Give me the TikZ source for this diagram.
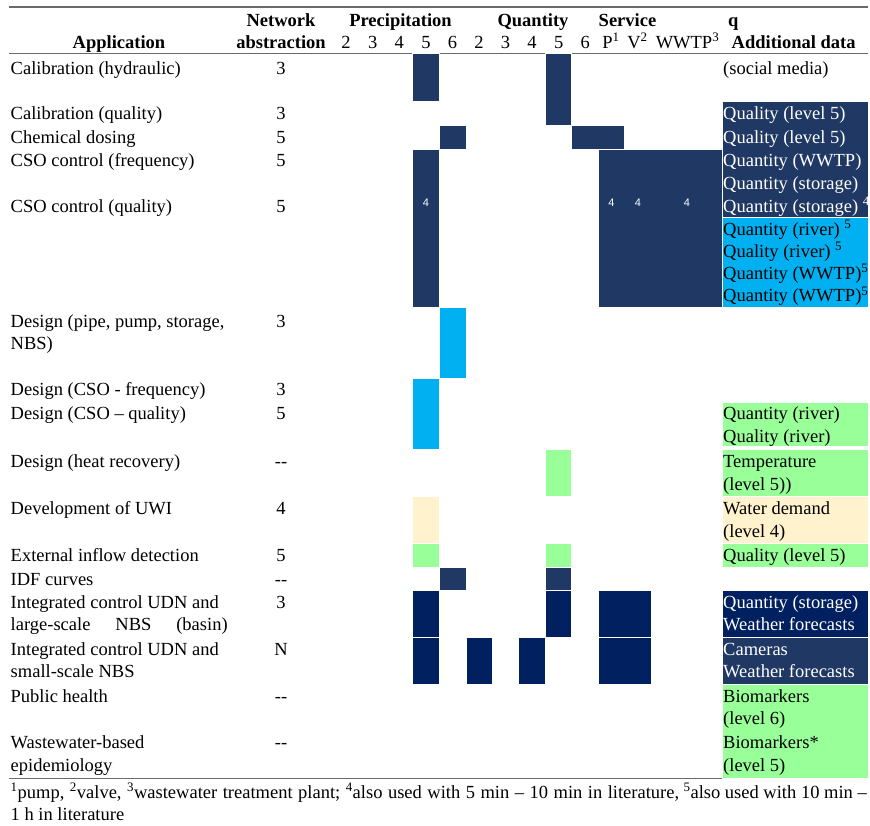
\documentclass[tikz,border=0pt]{standalone}
\usepackage{fontspec}
\setmainfont{Liberation Serif}
\newfontfamily\smallsans{Liberation Sans}
\definecolor{navyA}{HTML}{1F3864}
\definecolor{navyB}{HTML}{002060}
\definecolor{cyanC}{HTML}{00B0F0}
\definecolor{greenC}{HTML}{99FF99}
\definecolor{beigeC}{HTML}{FFF2CC}
\definecolor{ruleC}{HTML}{6A6A6A}
\begin{document}
\begin{tikzpicture}[x=1pt,y=-1pt,
    every node/.style={inner sep=0pt,font=\fontsize{18.5}{22}\selectfont},
    lft/.style={anchor=base west},
    rgt/.style={anchor=base east},
    ctr/.style={anchor=base},
    wht/.style={text=white},
    hd/.style={font=\fontsize{18.5}{22}\selectfont\bfseries},
    cell/.style={draw=white,line width=0.6pt},
    four/.style={anchor=center,text=white,font=\smallsans\fontsize{11}{12}\selectfont}]
            \useasboundingbox (0,0) rectangle (870,825);
            % rules
            \draw[ruleC,line width=1.4pt] (9,7) -- (868,7);
            \draw[ruleC,line width=1pt] (9,53) -- (868,53);
            \draw[ruleC,line width=1.4pt] (9,778.5) -- (868,778.5);
            % coloured cells
            \path[fill=navyA,cell] (412.7,53) rectangle (439.3,101);
            \path[fill=navyA,cell] (545,53) rectangle (571.3,125);
            \path[fill=navyA,cell] (439.3,125) rectangle (466,149);
            \path[fill=navyA,cell] (571.3,125) rectangle (624.7,149);
            \path[fill=navyA,cell] (412.7,149) rectangle (439.3,307);
            \path[fill=navyA,cell] (598,149) rectangle (722,307);
            \path[fill=navyA,cell] (722,101) rectangle (868,217);
            \path[fill=cyanC,cell] (722,217) rectangle (868,307);
            \path[fill=cyanC,cell] (439.3,307) rectangle (466,378);
            \path[fill=cyanC,cell] (412.7,378) rectangle (439.3,449);
            \path[fill=greenC,cell] (722,402) rectangle (868,446);
            \path[fill=greenC,cell] (545,449) rectangle (571.3,496);
            \path[fill=greenC,cell] (722,449) rectangle (868,496);
            \path[fill=beigeC,cell] (412.7,496) rectangle (439.3,543);
            \path[fill=beigeC,cell] (722,496) rectangle (868,543);
            \path[fill=greenC,cell] (412.7,543) rectangle (439.3,567);
            \path[fill=greenC,cell] (545,543) rectangle (571.3,567);
            \path[fill=greenC,cell] (722,543) rectangle (868,567);
            \path[fill=navyA,cell] (439.3,567) rectangle (466,590.5);
            \path[fill=navyA,cell] (545,567) rectangle (571.3,590.5);
            \path[fill=navyB,cell] (412.7,590.5) rectangle (439.3,637);
            \path[fill=navyB,cell] (545,590.5) rectangle (571.3,637);
            \path[fill=navyB,cell] (598,590.5) rectangle (651,637);
            \path[fill=navyB,cell] (722,590.5) rectangle (868,637);
            \path[fill=navyB,cell] (412.7,637) rectangle (439.3,684);
            \path[fill=navyB,cell] (466,637) rectangle (492,684);
            \path[fill=navyB,cell] (518.5,637) rectangle (545,684);
            \path[fill=navyB,cell] (598,637) rectangle (651,684);
            \path[fill=navyA,cell] (722,637) rectangle (868,684);
            \path[fill=greenC,cell] (722,684) rectangle (868,778);
            % header
            \node[hd,ctr] (h1) at (281,26) {Network};
            \node[hd,ctr] (h2) at (400.5,26) {Precipitation};
            \node[hd,ctr] (h3) at (533,26) {Quantity};
            \node[hd,ctr] (h4) at (627.5,26) {Service};
            \node[hd,lft] (h5) at (728,26) {q};
            \node[hd,ctr] (h6) at (119,48) {Application};
            \node[hd,ctr] (h7) at (281,48) {abstraction};
            \foreach \d [count=\i] in {2,...,6} {
                \node[ctr] (pc\i) at (319.5+26.6*\i,48) {\d};
                \node[ctr] (qc\i) at (452.3+26.6*\i,48) {\d};
            }
            \node[ctr] (sp) at (611,48) {P\textsuperscript{1}};
            \node[ctr] (sv) at (637.5,48) {V\textsuperscript{2}};
            \node[ctr] (sw) at (687.5,48) {WWTP\textsuperscript{3}};
            \node[hd,lft] (h8) at (731.5,48) {Additional data};
            % application column
            \node[lft] (a1) at (10.5,74) {Calibration (hydraulic)};
            \node[lft] (a2) at (10.5,119) {Calibration (quality)};
            \node[lft] (a3) at (10.5,143) {Chemical dosing};
            \node[lft] (a4) at (10.5,166) {CSO control (frequency)};
            \node[lft] (a5) at (10.5,212) {CSO control (quality)};
            \node[lft] (a6) at (10.5,327) {Design (pipe, pump, storage,};
            \node[lft] (a6b) at (10.5,349) {NBS)};
            \node[lft] (a7) at (10.5,395) {Design (CSO - frequency)};
            \node[lft] (a8) at (10.5,419) {Design (CSO -- quality)};
            \node[lft] (a9) at (10.5,467) {Design (heat recovery)};
            \node[lft] (a10) at (10.5,514) {Development of UWI};
            \node[lft] (a11) at (10.5,561) {External inflow detection};
            \node[lft] (a12) at (10.5,585) {IDF curves};
            \node[lft] (a13) at (10.5,608) {Integrated control UDN and};
            \node[lft] (a13b) at (10.5,630) {\makebox[217pt][s]{large-scale NBS (basin)}};
            \node[lft] (a14) at (10.5,655) {Integrated control UDN and};
            \node[lft] (a14b) at (10.5,677) {small-scale NBS};
            \node[lft] (a15) at (10.5,702) {Public health};
            \node[lft] (a16) at (10.5,748) {Wastewater-based};
            \node[lft] (a16b) at (10.5,771) {epidemiology};
            % network abstraction
            \node[ctr] (n1) at (281,74) {3};
            \node[ctr] (n2) at (281,119) {3};
            \node[ctr] (n3) at (281,143) {5};
            \node[ctr] (n4) at (281,166) {5};
            \node[ctr] (n5) at (281,212) {5};
            \node[ctr] (n6) at (281,327) {3};
            \node[ctr] (n7) at (281,395) {3};
            \node[ctr] (n8) at (281,419) {5};
            \node[ctr] (n9) at (281,467) {-{}-};
            \node[ctr] (n10) at (281,514) {4};
            \node[ctr] (n11) at (281,561) {5};
            \node[ctr] (n12) at (281,585) {-{}-};
            \node[ctr] (n13) at (281,608) {3};
            \node[ctr] (n14) at (281,655) {N};
            \node[ctr] (n15) at (281,702) {-{}-};
            \node[ctr] (n16) at (281,748) {-{}-};
            % small marks in CSO control (quality)
            \node[four] (f1) at (426,203) {4};
            \node[four] (f2) at (611.5,203) {4};
            \node[four] (f3) at (638,203) {4};
            \node[four] (f4) at (687,203) {4};
            % additional data
            \node[lft] (d1) at (723,74) {(social media)};
            \node[lft,wht] (d2) at (723,119) {Quality (level 5)};
            \node[lft,wht] (d3) at (723,143) {Quality (level 5)};
            \node[lft,wht] (d4) at (723,166) {Quantity (WWTP)};
            \node[lft,wht] (d5) at (723,189) {Quantity (storage)};
            \node[lft,wht] (d6) at (723,212) {Quantity (storage) \textsuperscript{4}};
            \node[lft] (d7) at (723,235) {Quantity (river) \textsuperscript{5}};
            \node[lft] (d8) at (723,257) {Quality (river) \textsuperscript{5}};
            \node[lft] (d9) at (723,279) {Quantity (WWTP)\textsuperscript{5}};
            \node[lft] (d10) at (723,301.5) {Quantity (WWTP)\textsuperscript{5}};
            \node[lft] (d11) at (723,419) {Quantity (river)};
            \node[lft] (d12) at (723,442) {Quality (river)};
            \node[lft] (d13) at (723,467) {Temperature};
            \node[lft] (d14) at (723,490) {(level 5))};
            \node[lft] (d15) at (723,514) {Water demand};
            \node[lft] (d16) at (723,537) {(level 4)};
            \node[lft] (d17) at (723,561) {Quality (level 5)};
            \node[lft,wht] (d18) at (723,608) {Quantity (storage)};
            \node[lft,wht] (d19) at (723,630) {Weather forecasts};
            \node[lft,wht] (d20) at (723,655) {Cameras};
            \node[lft,wht] (d21) at (723,677) {Weather forecasts};
            \node[lft] (d22) at (723,702) {Biomarkers};
            \node[lft] (d23) at (723,724) {(level 6)};
            \node[lft] (d24) at (723,748) {Biomarkers*};
            \node[lft] (d25) at (723,771) {(level 5)};
            % footnote
            \node[lft] (fn1) at (10.5,798) {\spaceskip=5.5pt\relax\textsuperscript{1}pump, \textsuperscript{2}valve, \textsuperscript{3}wastewater treatment plant; \textsuperscript{4}also used with 5 min -- 10 min in literature,};
            \node[rgt] (fn2) at (867,798) {\textsuperscript{5}also used with 10 min --};
            \node[lft] (fn3) at (10.5,820) {1 h in literature};
        \end{tikzpicture}
\end{document}
